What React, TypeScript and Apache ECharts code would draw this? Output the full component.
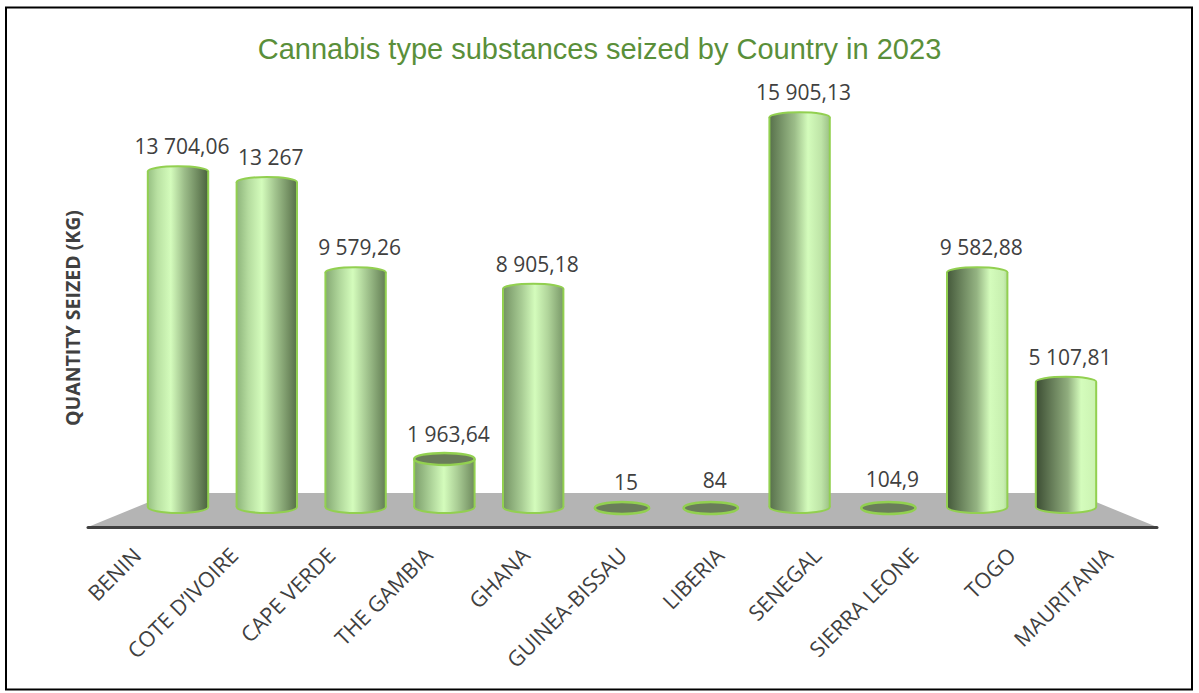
import React, { useEffect, useRef } from "react";
import * as echarts from "echarts";

const categories = [
  "BENIN",
  "COTE D’IVOIRE",
  "CAPE VERDE",
  "THE GAMBIA",
  "GHANA",
  "GUINEA-BISSAU",
  "LIBERIA",
  "SENEGAL",
  "SIERRA LEONE",
  "TOGO",
  "MAURITANIA",
];
const seized = [13704.06, 13267, 9579.26, 1963.64, 8905.18, 15, 84, 15905.13, 104.9, 9582.88, 5107.81];

const titleText = "Cannabis type substances seized by Country in 2023";
const yAxisTitle = "QUANTITY SEIZED (KG)";

function fmt(v: number): string {
  const [i, d] = String(v).split(".");
  const ip = i.replace(/\B(?=(\d{3})+(?!\d))/g, " ");
  return d ? ip + "," + d : ip;
}

function hex(c: string) {
  const n = parseInt(c.slice(1), 16);
  return [(n >> 16) & 255, (n >> 8) & 255, n & 255];
}
function toHex(r: number[]) {
  return "#" + r.map((x) => Math.round(x).toString(16).padStart(2, "0")).join("");
}
function mix(a: string, b: string, t: number) {
  const A = hex(a), B = hex(b);
  return toHex(A.map((x, k) => x + (B[k] - x) * t));
}

export default function App() {
  const ref = useRef<HTMLDivElement>(null);
  useEffect(() => {
    if (!ref.current) return;
    const chart = echarts.init(ref.current, undefined, { renderer: "svg" });
    const n = categories.length;
    const outline = "#92d050";

    const renderItem = (params: any, api: any) => {
      const idx = params.dataIndex;
      const v = api.value(1);
      const top = api.coord([idx, v]);
      const base = api.coord([idx, 0]);
      const bw = api.size([1, 0])[0] * 0.68;
      const rx = bw / 2;
      const ry = 6;
      const cx = base[0];
      const yb = base[1];
      const yt = top[1];
      const t = idx / (n - 1);
      const h = 0.38 + 0.37 * t;
      const left = mix("#97c083", "#3c4d33", t);
      const right = mix("#4b623e", "#bfe8a6", t);
      const hi = "#d4fcbc";
      const grad = {
        type: "linear",
        x: 0,
        y: 0,
        x2: 1,
        y2: 0,
        colorStops: [
          { offset: 0, color: left },
          { offset: Math.max(0.02, h - 0.22), color: mix(left, hi, 0.55) },
          { offset: h, color: hi },
          { offset: Math.min(0.98, h + 0.22), color: mix(hi, right, 0.4) },
          { offset: 1, color: right },
        ],
      };
      const short = yt > 430;
      const flat = yb - yt < 4;
      const children: any[] = [];
      if (!flat) {
        children.push({
          type: "ellipse",
          shape: { cx, cy: yb, rx, ry },
          style: { fill: grad, stroke: outline, lineWidth: 2 },
        });
      }
      if (!short) {
        children.push({
          type: "ellipse",
          shape: { cx, cy: yt, rx, ry: 5 },
          style: { fill: grad, stroke: outline, lineWidth: 2 },
        });
      }
      if (!flat) {
        children.push({
          type: "rect",
          shape: { x: cx - rx, y: yt, width: 2 * rx, height: Math.max(0, yb - yt) },
          style: { fill: grad },
        });
        children.push({
          type: "line",
          shape: { x1: cx - rx, y1: yt, x2: cx - rx, y2: yb },
          style: { stroke: outline, lineWidth: 2 },
        });
        children.push({
          type: "line",
          shape: { x1: cx + rx, y1: yt, x2: cx + rx, y2: yb },
          style: { stroke: outline, lineWidth: 2 },
        });
      }
      if (short) {
        children.push({
          type: "ellipse",
          shape: { cx, cy: flat ? yb + 1 : yt, rx: flat ? rx * 0.9 : rx, ry: 6 },
          style: { fill: "#6a7d5a", stroke: outline, lineWidth: 2.5 },
        });
      }
      children.push({
        type: "text",
        style: {
          text: fmt(v),
          x: cx + 4,
          y: yt - 25,
          align: "center",
          verticalAlign: "middle",
          fill: "#404040",
          font: '21px "Open Sans"',
        },
      });
      return { type: "group", children };
    };

    chart.setOption({
      animation: false,
      backgroundColor: "#ffffff",
      title: {
        text: titleText,
        left: "center",
        top: 29,
        textStyle: {
          fontFamily: "Liberation Sans",
          fontSize: 29,
          fontWeight: "normal",
          color: "#5a8f3a",
        },
      },
      grid: [
        { left: 133.6, right: 88.6, top: 66, bottom: 186 },
        { left: 88, right: 42, top: 66, bottom: 166 },
      ],
      xAxis: [
        { type: "category", data: categories, gridIndex: 0, show: false },
        {
          type: "category",
          data: categories,
          gridIndex: 1,
          z: 3,
          axisLine: { show: true, lineStyle: { color: "#404040", width: 3 } },
          axisTick: { show: false },
          axisLabel: {
            rotate: 45,
            margin: 24,
            interval: 0,
            color: "#404040",
            fontFamily: "Open Sans",
            fontSize: 21.5,
          },
        },
      ],
      yAxis: [
        { type: "value", gridIndex: 0, min: 0, max: 18000, show: false },
        { type: "value", gridIndex: 1, min: 0, max: 1, show: false },
      ],
      graphic: [
        {
          type: "polygon",
          z: 0,
          shape: { points: [[171, 493], [1074, 493], [1157, 527], [88, 527]] },
          style: { fill: "#b4b4b4" },
        },
        {
          type: "text",
          x: 72,
          y: 318,
          rotation: Math.PI / 2,
          style: {
            text: yAxisTitle,
            align: "center",
            verticalAlign: "middle",
            fill: "#404040",
            font: 'bold 19.5px "Open Sans"',
          },
        },
        {
          type: "rect",
          z: 10,
          shape: { x: 6, y: 7.5, width: 1186, height: 682 },
          style: { fill: "none", stroke: "#000000", lineWidth: 2 },
        },
      ],
      series: [
        {
          type: "custom",
          xAxisIndex: 0,
          yAxisIndex: 0,
          z: 5,
          data: seized.map((v, i) => [i, v]),
          renderItem,
        },
      ],
    });
    return () => chart.dispose();
  }, []);
  return (
    <div
      ref={ref}
      style={{ position: "fixed", left: 0, top: 0, width: 1199, height: 693 }}
    />
  );
}
